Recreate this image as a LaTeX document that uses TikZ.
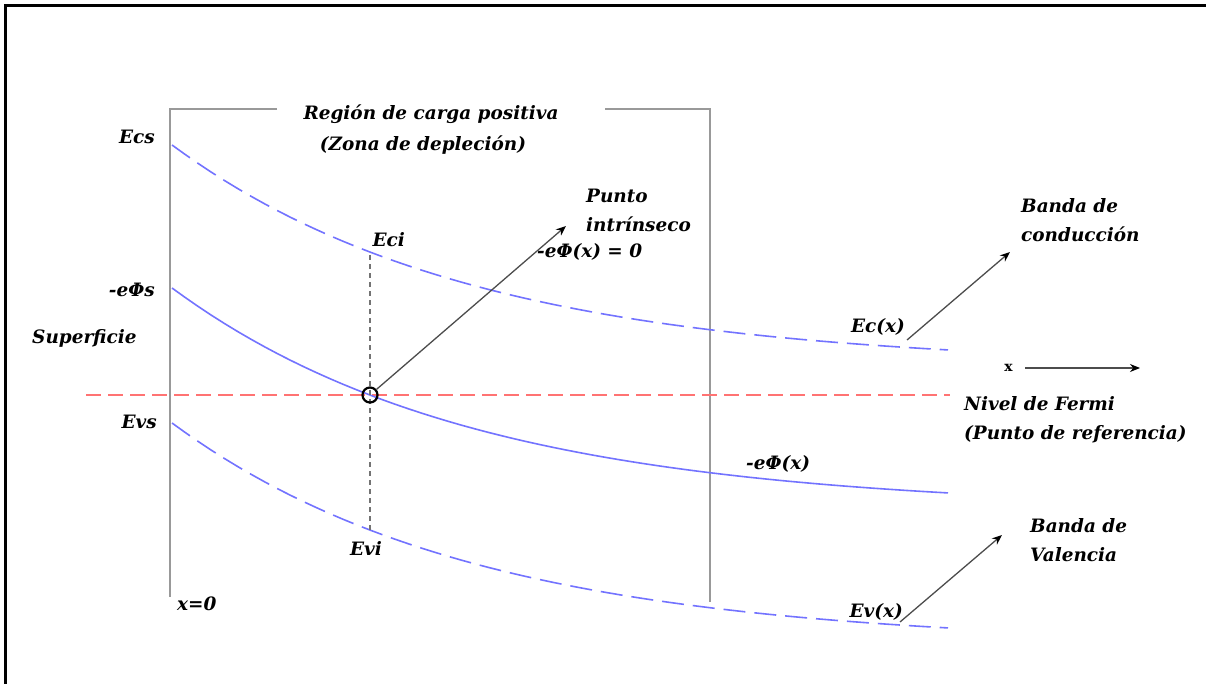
\documentclass[tikz,border=0pt]{standalone}
\usepackage{fontspec}
\setmainfont{DejaVu Serif}
\usetikzlibrary{arrows.meta, positioning}

\begin{document}
\begin{tikzpicture}[
    x=1bp, y=-1bp,
    node distance=12bp,
    lbl/.style={font=\fontsize{18.5}{29}\selectfont\bfseries\itshape, inner sep=0pt},
    band/.style={draw=blue!55, line width=1.6bp},
    bandcut/.style={band, dash pattern=on 22bp off 9bp},
    fermi/.style={draw=red!55, line width=1.6bp, dash pattern=on 15bp off 7bp},
    wall/.style={draw=black!40, line width=2.4bp},
    arrow/.style={draw=black!70, line width=1.3bp, -{Stealth[length=10bp, width=8bp, color=black]}}
]
\useasboundingbox (0,0) rectangle (1206,684);

% frame and depletion region
\draw[line width=3bp] (5,684) -- (5,6) -- (1206,6);
\draw[wall] (277,109) -- (170,109) -- (170,597);
\draw[wall] (605,109) -- (710,109) -- (710,602);

% bands
\draw[fermi] (86,395) -- (950,395);
\draw[bandcut, domain=172:948, samples=60] plot (\x, {145+221.6*(1-exp(-(\x-172)/300))});
\draw[band, domain=172:948, samples=60] plot (\x, {288+221.6*(1-exp(-(\x-172)/300))});
\draw[bandcut, domain=172:948, samples=60] plot (\x, {423+221.6*(1-exp(-(\x-172)/300))});

% intrinsic point
\coordinate (ci) at (370,255);
\coordinate (vi) at (370,530);
\draw[draw=black!55, line width=1.5bp, dash pattern=on 5bp off 4bp] (ci) -- (vi);
\node[circle, draw, line width=2.2bp, minimum size=15bp, inner sep=0pt] (pint) at (370,395) {};
\coordinate (pinttip) at (566,226);
\draw[arrow] (pint) -- (pinttip);

% labels
\node[lbl, anchor=east] (ecs) at (155,137) {Ecs};
\node[lbl, anchor=east] (phis) at (155,290) {-eΦs};
\node[lbl, anchor=west] (sup) at (32,338) {Superficie};
\node[lbl, anchor=east] (evs) at (157,422) {Evs};
\node[lbl, anchor=west] (xzero) at (177,604) {x=0};
\node[lbl] (region) at (431,114) {Región de carga positiva};
\node[lbl] (zona) at (423,145) {(Zona de depleción)};
\node[lbl, anchor=east] (eci) at (405,240) {Eci};
\node[lbl, anchor=east] (evi) at (382,548) {Evi};
\node[lbl, anchor=west, align=left] (punto) at (586,210) {Punto\\intrínseco};
\node[lbl, anchor=west] (phizero) at (537,252) {-eΦ(x) = 0};
\node[lbl, anchor=west, align=left] (bcond) at (1021,220) {Banda de\\conducción};
\node[lbl, anchor=east] (ecx) at (905,327) {Ec(x)};
\node[lbl, anchor=west, align=left] (nfermi) at (964,420) {Nivel de Fermi\\(Punto de referencia)};
\node[lbl, anchor=west] (phix) at (746,464) {-eΦ(x)};
\node[lbl, anchor=west, align=left] (bval) at (1030,540) {Banda de\\Valencia};
\node[lbl, anchor=east] (evx) at (903,612) {Ev(x)};

% pointers to the bands
\coordinate (ecfoot) at (907,340);
\coordinate (ectip) at (1010,252);
\coordinate (evfoot) at (900,622);
\coordinate (evtip) at (1002,535);
\draw[arrow] (ecfoot) -- (ectip);
\draw[arrow] (evfoot) -- (evtip);

% x axis
\coordinate (xtail) at (1025,368);
\coordinate (xhead) at (1140,368);
\node[font=\fontsize{14}{16}\selectfont\bfseries, inner sep=0pt, left=of xtail] (xlbl) {x};
\draw[arrow] (xtail) -- (xhead);
\end{tikzpicture}
\end{document}
